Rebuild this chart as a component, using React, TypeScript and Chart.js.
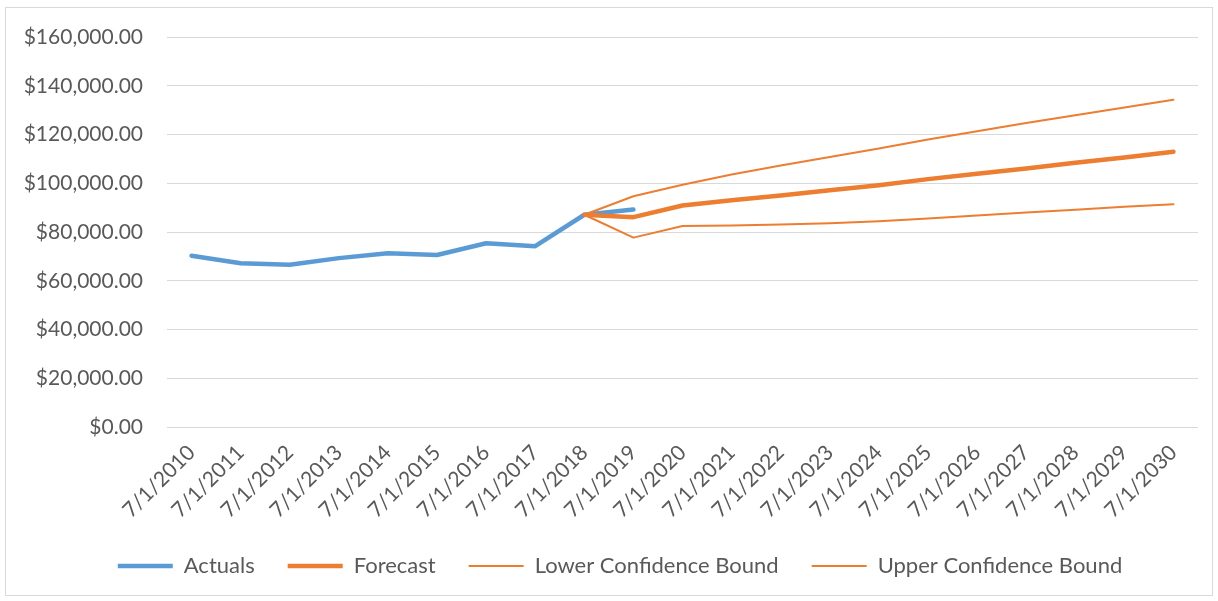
import { useEffect, useRef } from 'react';
import { Chart, registerables } from 'chart.js';
Chart.register(...registerables);

const categories = [
  '7/1/2010', '7/1/2011', '7/1/2012', '7/1/2013', '7/1/2014', '7/1/2015', '7/1/2016',
  '7/1/2017', '7/1/2018', '7/1/2019', '7/1/2020', '7/1/2021', '7/1/2022', '7/1/2023',
  '7/1/2024', '7/1/2025', '7/1/2026', '7/1/2027', '7/1/2028', '7/1/2029', '7/1/2030',
];

const actuals = [70300, 67200, 66600, 69300, 71300, 70600, 75400, 74200, 87100, 89200];

const forecast = [
  null, null, null, null, null, null, null, null,
  87100, 86100, 90900, 93000, 95000, 97100, 99200, 101700, 103900, 106100, 108400, 110600, 112900,
];

const lowerBound = [
  null, null, null, null, null, null, null, null,
  87100, 77700, 82500, 82700, 83100, 83600, 84400, 85600, 86800, 88000, 89100, 90400, 91400,
];

const upperBound = [
  null, null, null, null, null, null, null, null,
  87100, 94700, 99400, 103600, 107300, 110800, 114300, 118000, 121300, 124700, 127900, 131100, 134300,
];

const yMin = 0;
const yMax = 160000;
const yStep = 20000;

const BLUE = '#5B9BD5';
const ORANGE = '#ED7D31';
const TEXT = '#595959';
const GRID = '#D9D9D9';

const borderPlugin = {
  id: 'outerBorder',
  beforeDraw(chart: any) {
    const ctx = chart.ctx;
    ctx.save();
    ctx.fillStyle = '#ffffff';
    ctx.fillRect(0, 0, chart.width, chart.height);
    ctx.strokeStyle = GRID;
    ctx.lineWidth = 1;
    ctx.strokeRect(5.5, 7.5, 1207, 588);
    ctx.restore();
  },
};

const legendShiftPlugin = {
  id: 'legendShift',
  afterLayout(chart: any) {
    const lg = chart.legend;
    if (lg) {
      lg.left += 21;
      lg.right += 21;
    }
  },
};

export default function App() {
  const ref = useRef<HTMLCanvasElement | null>(null);
  useEffect(() => {
    document.body.style.margin = '0';
    const canvas = ref.current;
    if (!canvas) return;
    const chart = new Chart(canvas, {
      type: 'line',
      data: {
        labels: categories,
        datasets: [
          {
            label: 'Actuals', data: actuals, borderColor: BLUE, backgroundColor: BLUE,
            borderWidth: 4.5, pointRadius: 0, tension: 0, borderCapStyle: 'round', borderJoinStyle: 'round', order: 4,
          },
          {
            label: 'Forecast', data: forecast, borderColor: ORANGE, backgroundColor: ORANGE,
            borderWidth: 4.5, pointRadius: 0, tension: 0, borderCapStyle: 'round', borderJoinStyle: 'round', order: 3,
          },
          {
            label: 'Lower Confidence Bound', data: lowerBound, borderColor: ORANGE, backgroundColor: ORANGE,
            borderWidth: 2, pointRadius: 0, tension: 0, borderCapStyle: 'round', borderJoinStyle: 'round', order: 2,
          },
          {
            label: 'Upper Confidence Bound', data: upperBound, borderColor: ORANGE, backgroundColor: ORANGE,
            borderWidth: 2, pointRadius: 0, tension: 0, borderCapStyle: 'round', borderJoinStyle: 'round', order: 1,
          },
        ] as any,
      },
      options: {
        animation: false,
        responsive: true,
        maintainAspectRatio: false,
        layout: { padding: { left: 0, right: 20, top: 37, bottom: 14 } },
        scales: {
          x: {
            offset: true,
            grid: { display: false, drawTicks: false },
            border: { display: false },
            ticks: {
              color: TEXT, autoSkip: false, maxRotation: 45, minRotation: 45, padding: 13,
              font: { family: 'Lato', size: 21 },
            },
            afterFit: (s: any) => { s.height -= 14; },
          },
          y: {
            min: yMin, max: yMax,
            grid: { color: GRID, lineWidth: 1, drawTicks: false },
            border: { display: false },
            ticks: {
              stepSize: yStep, color: TEXT, padding: 24,
              font: { family: 'Lato', size: 21 },
              callback: (v: any) => '$' + Number(v).toLocaleString('en-US', { minimumFractionDigits: 2, maximumFractionDigits: 2 }),
            },
            afterFit: (s: any) => { s.width = 167; },
          },
        },
        plugins: {
          tooltip: { enabled: false },
          legend: {
            position: 'bottom',
            labels: {
              color: TEXT, usePointStyle: true, pointStyle: 'line', pointStyleWidth: 55,
              padding: 33, font: { family: 'Lato', size: 22 },
              sort: (a: any, b: any) => a.datasetIndex - b.datasetIndex,
            },
          },
        },
      },
      plugins: [borderPlugin, legendShiftPlugin],
    });
    return () => chart.destroy();
  }, []);
  return (
    <div style={{ position: 'relative', width: 1218, height: 601 }}>
      <canvas ref={ref} />
    </div>
  );
}
